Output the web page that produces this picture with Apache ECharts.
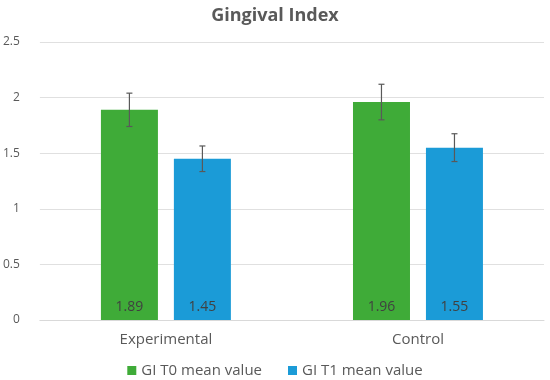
<!DOCTYPE html>
<html><head><meta charset="utf-8">
<script src="https://cdn.jsdelivr.net/npm/echarts@6/dist/echarts.min.js"></script>
<style>html,body{margin:0;padding:0;background:#fff}#c{width:550px;height:380px}</style>
</head><body><div id="c"></div>
<script>
const categories = ['Experimental', 'Control'];
const t0Values = [1.89, 1.96];
const t1Values = [1.45, 1.55];
const t0Errors = [0.15, 0.16];
const t1Errors = [0.115, 0.125];
const seriesNames = ['GI T0 mean value', 'GI T1 mean value'];

const FONT = '"Open Sans", sans-serif';
const chart = echarts.init(document.getElementById('c'));

function errSeries(vals, errs, idx) {
  return {
    type: 'custom',
    name: seriesNames[idx] + ' err',
    data: vals.map((v, i) => [i, v - errs[i], v + errs[i]]),
    z: 10,
    renderItem: function (params, api) {
      const lo = api.coord([api.value(0), api.value(1)]);
      const hi = api.coord([api.value(0), api.value(2)]);
      const barW = 57, gap = 16;
      const off = (idx === 0 ? -1 : 1) * (barW + gap) / 2;
      const x = lo[0] + off;
      const hw = 3;
      const style = { stroke: '#595959', lineWidth: 1.2 };
      return {
        type: 'group',
        children: [
          { type: 'line', shape: { x1: x, y1: lo[1], x2: x, y2: hi[1] }, style },
          { type: 'line', shape: { x1: x - hw, y1: lo[1], x2: x + hw, y2: lo[1] }, style },
          { type: 'line', shape: { x1: x - hw, y1: hi[1], x2: x + hw, y2: hi[1] }, style }
        ]
      };
    }
  };
}

chart.setOption({
  animation: false,
  title: {
    text: 'Gingival Index', left: 'center', top: 2,
    textStyle: { fontFamily: FONT, fontSize: 18, fontWeight: 'bold', color: '#595959' }
  },
  legend: {
    data: seriesNames, bottom: 2, left: 'center', padding: 0, icon: 'rect', itemWidth: 9, itemHeight: 9, itemGap: 26,
    textStyle: { fontFamily: FONT, fontSize: 15, color: '#595959' }
  },
  grid: { left: 36, right: 6, top: 42, bottom: 60 },
  xAxis: {
    type: 'category', data: categories,
    axisLine: { lineStyle: { color: '#d9d9d9' } },
    axisTick: { show: false },
    axisLabel: { fontFamily: FONT, fontSize: 15, color: '#595959', margin: 12 }
  },
  yAxis: {
    type: 'value', min: 0, max: 2.5, interval: 0.5,
    axisLine: { show: false }, axisTick: { show: false },
    splitLine: { lineStyle: { color: '#e0e0e0' } },
    axisLabel: { fontFamily: FONT, fontSize: 12, color: '#595959', margin: 20 }
  },
  series: [
    {
      type: 'bar', name: seriesNames[0], data: t0Values, barWidth: 57, barGap: '28%',
      itemStyle: { color: '#3fab38' },
      label: { show: true, position: 'insideBottom', distance: 6, fontFamily: FONT, fontSize: 14, color: '#404040' }
    },
    {
      type: 'bar', name: seriesNames[1], data: t1Values, barWidth: 57,
      itemStyle: { color: '#1b9bd7' },
      label: { show: true, position: 'insideBottom', distance: 6, fontFamily: FONT, fontSize: 14, color: '#404040' }
    },
    errSeries(t0Values, t0Errors, 0),
    errSeries(t1Values, t1Errors, 1)
  ]
});
</script></body></html>
